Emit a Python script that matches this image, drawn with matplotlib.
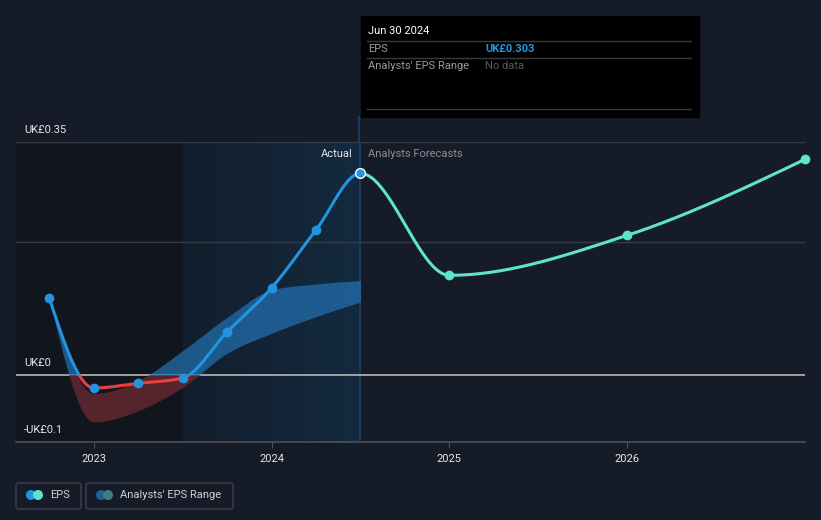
import numpy as np
import matplotlib
matplotlib.use("Agg")
import matplotlib.pyplot as plt
from matplotlib.patches import Rectangle, FancyBboxPatch, Ellipse
from matplotlib.lines import Line2D
from matplotlib.colors import LinearSegmentedColormap

plt.rcParams['font.family'] = ['Roboto', 'DejaVu Sans']

# --- Data (dates as decimal years) ---
eps_dates = [2022.75, 2023.0, 2023.25, 2023.5, 2023.75, 2024.0, 2024.25, 2024.5]
eps_values = [0.116, -0.019, -0.012, -0.004, 0.065, 0.131, 0.218, 0.303]
forecast_dates = [2025.0, 2026.0, 2027.0]
forecast_values = [0.150, 0.210, 0.324]
range_upper = [0.116, -0.027, -0.008, 0.037, 0.087, 0.128, 0.137, 0.142]
range_lower = [0.116, -0.070, -0.053, -0.018, 0.033, 0.063, 0.088, 0.110]
year_ticks = [2023, 2024, 2025, 2026]
y_tick_values = [0.35, 0.0, -0.1]
y_tick_labels = ["UK£0.35", "UK£0", "-UK£0.1"]
grid_values = [0.35, 0.2]

# --- Colours / layout ---
BG = "#161c27"
PAST_BG = "#11151e"
BLUE = "#2394df"
TEAL = "#5fe3cf"
RED = "#e8403f"
W, H = 821, 520
X_MIN, X_MAX = 2022.563, 2027.0
Y_MIN, Y_MAX = -0.1, 0.35
TODAY = 2024.5
PAST_END = 2023.5


def monotone_x(x, y, n=80):
    """cubic hermite with d3 curveMonotoneX slopes"""
    x = np.asarray(x, float)
    y = np.asarray(y, float)
    h = np.diff(x)
    s = np.diff(y) / h
    t = np.zeros_like(y)
    sgn = lambda v: -1.0 if v < 0 else 1.0
    for i in range(1, len(y) - 1):
        p = (s[i - 1] * h[i] + s[i] * h[i - 1]) / (h[i - 1] + h[i])
        t[i] = (sgn(s[i - 1]) + sgn(s[i])) * min(abs(s[i - 1]), abs(s[i]), 0.5 * abs(p))
    t[0] = (3 * s[0] - t[1]) / 2
    t[-1] = (3 * s[-1] - t[-2]) / 2
    xs, ys = [], []
    for i in range(len(h)):
        u = np.linspace(0, 1, n)
        h00 = 2 * u**3 - 3 * u**2 + 1
        h10 = u**3 - 2 * u**2 + u
        h01 = -2 * u**3 + 3 * u**2
        h11 = u**3 - u**2
        xs.append(x[i] + u * h[i])
        ys.append(h00 * y[i] + h10 * h[i] * t[i] + h01 * y[i + 1] + h11 * h[i] * t[i + 1])
    return np.concatenate(xs), np.concatenate(ys)


def px(x, y):
    # figure pixel coords (origin top-left) -> figure fraction
    return x / W, 1 - y / H


fig = plt.figure(figsize=(W / 100, H / 100), dpi=100, facecolor=BG)
ax = fig.add_axes([16 / W, (H - 442) / H, 789 / W, 300 / H])
ax.set_facecolor(BG)
ax.set_xlim(X_MIN, X_MAX)
ax.set_ylim(Y_MIN, Y_MAX)
for sp in ax.spines.values():
    sp.set_visible(False)

# background regions
ax.axvspan(X_MIN, PAST_END, color=PAST_BG, zorder=0, lw=0)
grad = np.linspace(0, 1, 256).reshape(1, -1)
hl_cmap = LinearSegmentedColormap.from_list("hl", ["#131e2c", "#142a40"])
ax.imshow(grad, cmap=hl_cmap, extent=[PAST_END, TODAY, Y_MIN, Y_MAX], aspect="auto", zorder=0.5)
ax.axvline(TODAY, color="#1d3a56", lw=1.5, zorder=1)

# grid
for g in grid_values:
    ax.axhline(g, color="#353b46", lw=1, zorder=1)
ax.axhline(0, color="#b8b8b8", lw=1.2, zorder=2)
ax.axhline(Y_MIN, color="#4a505a", lw=1.2, zorder=2, clip_on=False)

# clip rectangles
above = Rectangle((X_MIN, 0), X_MAX - X_MIN, 1, transform=ax.transData)
below = Rectangle((X_MIN, -1), X_MAX - X_MIN, 1, transform=ax.transData)

# analysts' range band
bx, bu = monotone_x(eps_dates, range_upper)
_, bl = monotone_x(eps_dates, range_lower)
band_b = ax.fill_between(bx, bl, bu, color="#2472b5", alpha=0.7, lw=0, zorder=3)
band_b.set_clip_path(above)
band_r = ax.fill_between(bx, bl, bu, color="#6e2a30", alpha=0.75, lw=0, zorder=3)
band_r.set_clip_path(below)

# EPS line (one monotone curve through actual + forecast)
all_x = eps_dates + forecast_dates
all_y = eps_values + forecast_values
cx, cy = monotone_x(all_x, all_y, n=120)
past = cx <= TODAY
fut = cx >= TODAY
lb, = ax.plot(cx[past], cy[past], color=BLUE, lw=2.2, zorder=5, solid_capstyle="round")
lb.set_clip_path(above)
lr, = ax.plot(cx[past], cy[past], color=RED, lw=2.2, zorder=5, solid_capstyle="round")
lr.set_clip_path(below)
ax.plot(cx[fut], cy[fut], color=TEAL, lw=2.2, zorder=5, solid_capstyle="round", clip_on=False)

ax.plot(eps_dates[:-1], eps_values[:-1], "o", color=BLUE, ms=6, mec=BLUE, zorder=6)
ax.plot(eps_dates[-1], eps_values[-1], "o", color=BLUE, ms=7, mec="white", mew=1, zorder=7)
ax.plot(forecast_dates, forecast_values, "o", color=TEAL, ms=6, zorder=6, clip_on=False)

# y labels, 8px right of the axes edge and 12px above their value
for v, lab in zip(y_tick_values, y_tick_labels):
    ax.text(8 / 789 * (X_MAX - X_MIN) + X_MIN, v + 12 / 300 * (Y_MAX - Y_MIN), lab,
            color="#e6e6e6", fontsize=8, va="center", ha="left", zorder=8)

# x ticks
ax.set_xticks(year_ticks)
ax.set_xticklabels([str(y) for y in year_ticks], color="#e6e6e6", fontsize=8)
ax.tick_params(axis="x", length=4, color="#4a505a", pad=5)
ax.set_yticks([])

# region labels
ax.text(TODAY - 8 / 789 * (X_MAX - X_MIN), Y_MAX - 12 / 300 * (Y_MAX - Y_MIN), "Actual",
        color="#e6e6e6", fontsize=8, ha="right", va="center", zorder=8)
ax.text(TODAY + 8 / 789 * (X_MAX - X_MIN), Y_MAX - 12 / 300 * (Y_MAX - Y_MIN), "Analysts Forecasts",
        color="#8a8f96", fontsize=8, ha="left", va="center", zorder=8)

# today line above the axes
fig.add_artist(Line2D([359 / W, 359 / W], [1 - 117 / H, 1 - 142 / H], color="#1d3a56", lw=1.5))

# tooltip
fig.add_artist(Rectangle(px(361, 117), 338 / W, 101 / H, color="black", zorder=10))
for yy in [41, 58, 109]:
    fig.add_artist(Line2D([367 / W, 691 / W], [1 - yy / H] * 2, color="#3a3a3a", lw=1, zorder=11))
fig.text(*px(368, 31), "Jun 30 2024", color="white", fontsize=8, va="center", zorder=12)
fig.text(*px(368, 49), "EPS", color="#9a9a9a", fontsize=8, va="center", zorder=12)
fig.text(*px(485, 49), "UK£0.303", color=BLUE, fontsize=8, va="center", fontweight="bold", zorder=12)
fig.text(*px(368, 66), "Analysts' EPS Range", color="#9a9a9a", fontsize=8, va="center", zorder=12)
fig.text(*px(485, 66), "No data", color="#5a5a5a", fontsize=8, va="center", zorder=12)

# legend
legend_items = [("EPS", 16, 65, BLUE, TEAL), ("Analysts' EPS Range", 86, 147, "#1f5f94", "#3f7f84")]
for label, x0, wd, c1, c2 in legend_items:
    fig.add_artist(FancyBboxPatch(px(x0, 509), wd / W, 26 / H, boxstyle="round,pad=0,rounding_size=0.004",
                                  fc="none", ec="#3d424b", lw=1))
    fig.add_artist(Ellipse(px(x0 + 15, 495), 8.6 / W, 8.6 / H, color=c1, zorder=2))
    fig.add_artist(Ellipse(px(x0 + 22, 495), 8.6 / W, 8.6 / H, color=c2, zorder=3))
    fig.text(*px(x0 + 34, 495), label, color="#cfcfcf", fontsize=8, va="center")

fig.savefig("out.png", dpi=100, facecolor=BG)
